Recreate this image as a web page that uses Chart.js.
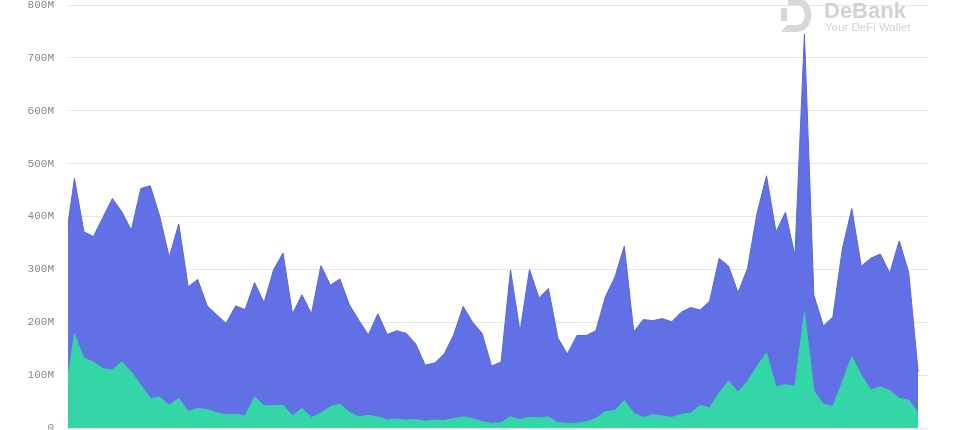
<!DOCTYPE html>
<html>
<head>
<meta charset="utf-8">
<script src="https://cdn.jsdelivr.net/npm/chart.js@4/dist/chart.umd.min.js"></script>
<style>
  html, body { margin: 0; padding: 0; background: #ffffff; overflow: hidden; }
  #wrap { width: 954px; height: 430px; position: relative; }
  canvas { display: block; }
</style>
</head>
<body>
<div id="wrap"><canvas id="c" width="954" height="430"></canvas></div>
<script>
// Values in millions (M), one entry per day
const totalValues = [345, 472, 371, 362, 398, 434, 409, 374, 453, 458,
  400, 323, 386, 267, 281, 231, 214, 198, 231, 224,
  275, 237, 299, 331, 216, 252, 216, 307, 270, 282,
  233, 204, 176, 216, 177, 184, 179, 159, 119, 123,
  140, 176, 230, 200, 179, 117, 125, 299, 182, 300,
  246, 264, 170, 140, 175, 175, 184, 248, 285, 344,
  182, 205, 203, 207, 201, 219, 228, 223, 240, 321,
  306, 256, 302, 406, 477, 371, 408, 326, 745, 251,
  193, 210, 339, 415, 306, 321, 329, 293, 354, 294, 106];
const greenValues = [60, 177, 132, 125, 112, 110, 125, 106, 81, 56,
  58, 43, 56, 31, 37, 35, 29, 25, 26, 23,
  59, 42, 42, 43, 23, 37, 20, 28, 40, 45,
  30, 21, 24, 21, 15, 17, 15, 16, 13, 15,
  14, 18, 21, 18, 12, 9, 10, 21, 16, 20,
  19, 21, 10, 9, 9, 12, 18, 31, 33, 52,
  28, 20, 25, 23, 20, 26, 28, 43, 38, 66,
  89, 68, 88, 117, 142, 78, 82, 79, 218, 70,
  45, 41, 87, 135, 100, 72, 78, 71, 56, 53, 28];
const yTicks = [0, 100, 200, 300, 400, 500, 600, 700, 800];

const toPoints = arr => arr.map((v, i) => ({ x: i, y: v }));

const watermark = {
  id: 'watermark',
  afterDraw(chart) {
    const ctx = chart.ctx;
    ctx.save();
    ctx.fillStyle = '#d8d8d8';
    // logo mark
    ctx.beginPath();
    ctx.moveTo(788, -2);
    ctx.lineTo(797, -2);
    ctx.bezierCurveTo(816, -2, 816, 32, 797, 32);
    ctx.lineTo(781, 32);
    ctx.lineTo(787, 25);
    ctx.lineTo(797, 25);
    ctx.bezierCurveTo(807, 25, 807, 5, 797, 5);
    ctx.lineTo(788, 5);
    ctx.closePath();
    ctx.fill();
    ctx.fillRect(781, 8, 6, 13);
    ctx.textAlign = 'left';
    ctx.textBaseline = 'alphabetic';
    ctx.fillStyle = '#d2d2d2';
    ctx.font = 'bold 22px "Liberation Sans", Arial, sans-serif';
    ctx.fillText('DeBank', 824, 18);
    ctx.font = '11.5px "Liberation Sans", Arial, sans-serif';
    ctx.fillText('Your DeFi Wallet', 825, 31);
    ctx.restore();
  }
};

new Chart(document.getElementById('c'), {
  type: 'line',
  data: {
    datasets: [
      {
        label: 'Green',
        data: toPoints(greenValues),
        backgroundColor: '#34d6a7',
        borderColor: '#34d6a7',
        borderWidth: 1,
        fill: 'origin',
        pointRadius: 0,
        tension: 0,
        clip: 0
      },
      {
        label: 'Total',
        data: toPoints(totalValues),
        backgroundColor: '#6270e6',
        borderColor: '#5a66d8',
        borderWidth: 1,
        fill: 'origin',
        pointRadius: 0,
        tension: 0,
        clip: 0
      }
    ]
  },
  options: {
    responsive: false,
    maintainAspectRatio: false,
    animation: false,
    layout: { autoPadding: false, padding: { left: 0, right: 27, top: 5, bottom: 2 } },
    plugins: { legend: { display: false }, tooltip: { enabled: false } },
    scales: {
      x: {
        type: 'linear',
        min: 0.32,
        max: 90.93,
        display: false
      },
      y: {
        min: 0,
        max: 800,
        afterFit: s => { s.width = 68; },
        afterBuildTicks: s => { s.ticks = yTicks.map(v => ({ value: v })); },
        border: { display: false },
        grid: { color: '#e6e6e6', lineWidth: 1, drawTicks: true, tickLength: 14, tickColor: 'rgba(0,0,0,0)' },
        ticks: {
          padding: 0,
          color: '#888888',
          font: { family: '"Liberation Mono", "DejaVu Sans Mono", monospace', size: 11, lineHeight: 0.36 },
          callback: v => v === 0 ? '0' : v + 'M'
        }
      }
    }
  },
  plugins: [watermark]
});
</script>
</body>
</html>
